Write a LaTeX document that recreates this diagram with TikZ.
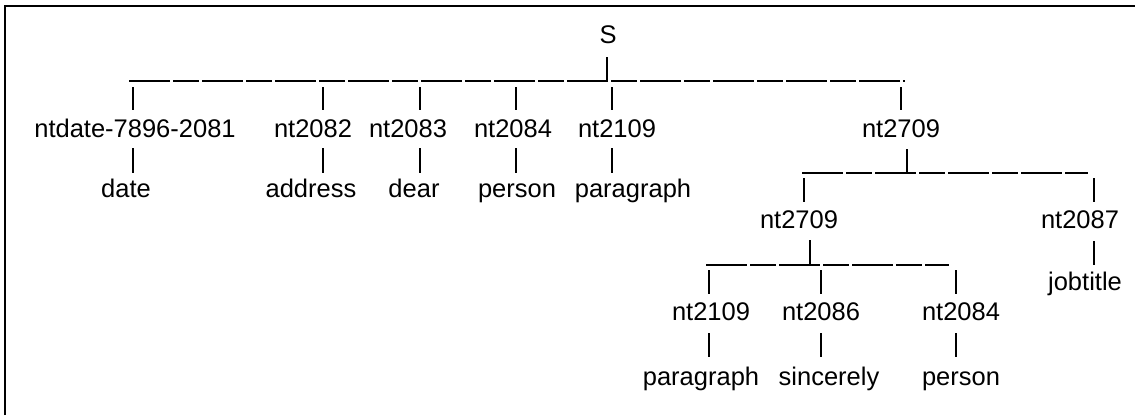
\documentclass[tikz,border=0pt]{standalone}
\usepackage{fontspec}
\setmainfont{Liberation Sans}
\tikzset{
  lab/.style={inner sep=0pt, anchor=base, font=\fontsize{25.5}{30}\selectfont},
  pipe/.style={line width=1.5pt},
  bar/.style={line width=1.6pt, dash pattern=on 41pt off 3pt on 26pt off 3pt},
  frame/.style={line width=2pt}
}
\begin{document}
\begin{tikzpicture}[x=1pt,y=-1pt]
\useasboundingbox (0,0) rectangle (1135,415);
% frame (top and left edges only)
\draw[frame] (5,415) -- (5,6) -- (1135,6);

% root
\node[lab] (S) at (608,43) {S};
\draw[pipe] (607,57) -- (607,81);
\draw[bar] (129,81) -- (905,81);

% first level
\foreach \x in {133,323,420,516,612,901} \draw[pipe] (\x,87) -- (\x,110);
\node[lab] (a1) at (135,137) {ntdate-7896-2081};
\node[lab] (a2) at (313,137) {nt2082};
\node[lab] (a3) at (408,137) {nt2083};
\node[lab] (a4) at (513,137) {nt2084};
\node[lab] (a5) at (617,137) {nt2109};
\node[lab] (a6) at (901,137) {nt2709};

\foreach \x in {133,323,420,516,612} \draw[pipe] (\x,148) -- (\x,173);
\node[lab] (b1) at (126,197) {date};
\node[lab] (b2) at (311,197) {address};
\node[lab] (b3) at (414,197) {dear};
\node[lab] (b4) at (517,197) {person};
\node[lab] (b5) at (633,197) {paragraph};

% subtree nt2709
\draw[pipe] (907,149) -- (907,173);
\draw[bar] (802,173) -- (1088,173);
\foreach \x in {804,1094} \draw[pipe] (\x,178) -- (\x,202);
\node[lab] (c1) at (799,228) {nt2709};
\node[lab] (c2) at (1080,228) {nt2087};
\draw[pipe] (1094,241) -- (1094,265);
\node[lab] (c3) at (1085,290) {jobtitle};

% subtree nt2709 (second)
\draw[pipe] (810,240) -- (810,265);
\draw[bar] (706,265) -- (949,265);
\foreach \x in {709,821,956} \draw[pipe] (\x,270) -- (\x,294);
\node[lab] (d1) at (711,320) {nt2109};
\node[lab] (d2) at (821,320) {nt2086};
\node[lab] (d3) at (961,320) {nt2084};
\foreach \x in {709,821,956} \draw[pipe] (\x,333) -- (\x,357);
\node[lab] (e1) at (701,385) {paragraph};
\node[lab] (e2) at (829,385) {sincerely};
\node[lab] (e3) at (961,385) {person};
\end{tikzpicture}
\end{document}
